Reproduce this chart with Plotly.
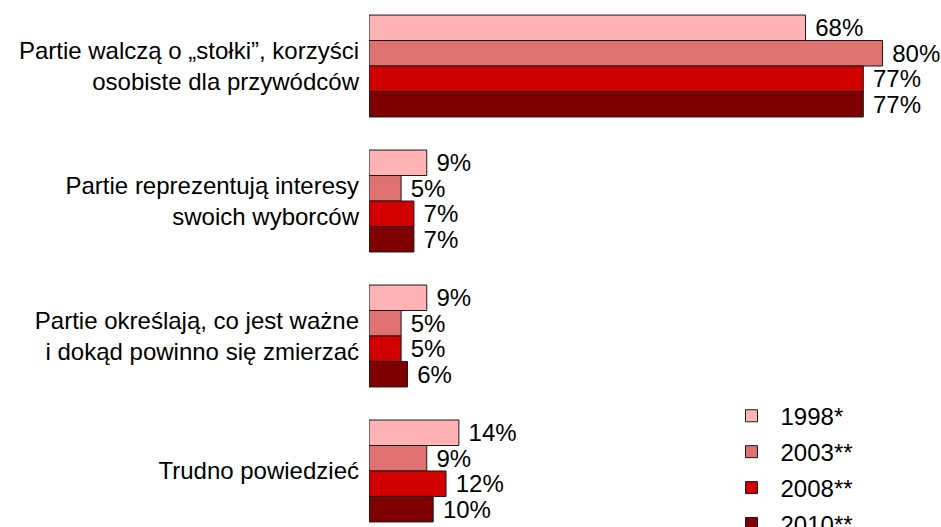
import plotly.graph_objects as go

categories = [
    "Partie walczą o „stołki”, korzyści<br>osobiste dla przywódców",
    "Partie reprezentują interesy<br>swoich wyborców",
    "Partie określają, co jest ważne<br>i dokąd powinno się zmierzać",
    "Trudno powiedzieć",
]
series_names = ["1998*", "2003**", "2008**", "2010**"]
values_1998 = [68, 9, 9, 14]
values_2003 = [80, 5, 5, 9]
values_2008 = [77, 7, 5, 12]
values_2010 = [77, 7, 6, 10]
colors = ["#FFB3B5", "#E07171", "#D20000", "#7E0000"]

all_values = [values_1998, values_2003, values_2008, values_2010]

FONT = "Liberation Sans, Arial, sans-serif"

fig = go.Figure()
for name, vals, col in zip(series_names, all_values, colors):
    fig.add_trace(go.Bar(
        y=categories,
        x=vals,
        name=name,
        legendgroup=name,
        orientation="h",
        marker=dict(color=col, line=dict(color="#1a1a1a", width=1)),
        text=[f" {v}%" for v in vals],
        textposition="outside",
        textfont=dict(family=FONT, size=24, color="#000000"),
        constraintext="none",
        cliponaxis=False,
        hoverinfo="skip",
    ))

fig.update_layout(
    width=941,
    height=527,
    margin=dict(l=369, r=0, t=0, b=0, autoexpand=False),
    paper_bgcolor="white",
    plot_bgcolor="white",
    barmode="group",
    bargap=0.245,
    bargroupgap=0,
    font=dict(family=FONT, size=24, color="#000000"),
    showlegend=True,
    legend=dict(
        x=0.618, xanchor="left",
        y=0.253, yanchor="top",
        font=dict(family=FONT, size=24, color="#000000"),
        bgcolor="rgba(0,0,0,0)",
        traceorder="grouped",
        tracegroupgap=1.7,
        itemwidth=48,
    ),
    xaxis=dict(
        range=[0, 89.1],
        showgrid=False, zeroline=False, showticklabels=False,
        showline=False, ticks="",
    ),
    yaxis=dict(
        type="category",
        categoryorder="array",
        categoryarray=categories,
        range=[3.415, -0.489],
        showgrid=False, zeroline=False, showline=False,
        ticks="", ticklabelstandoff=9,
        tickfont=dict(family=FONT, size=24, color="#000000"),
    ),
)

fig.write_html(
    "out.html",
    config={"displayModeBar": False},
    post_script="document.body.style.margin='0';document.body.style.overflow='hidden';",
)
